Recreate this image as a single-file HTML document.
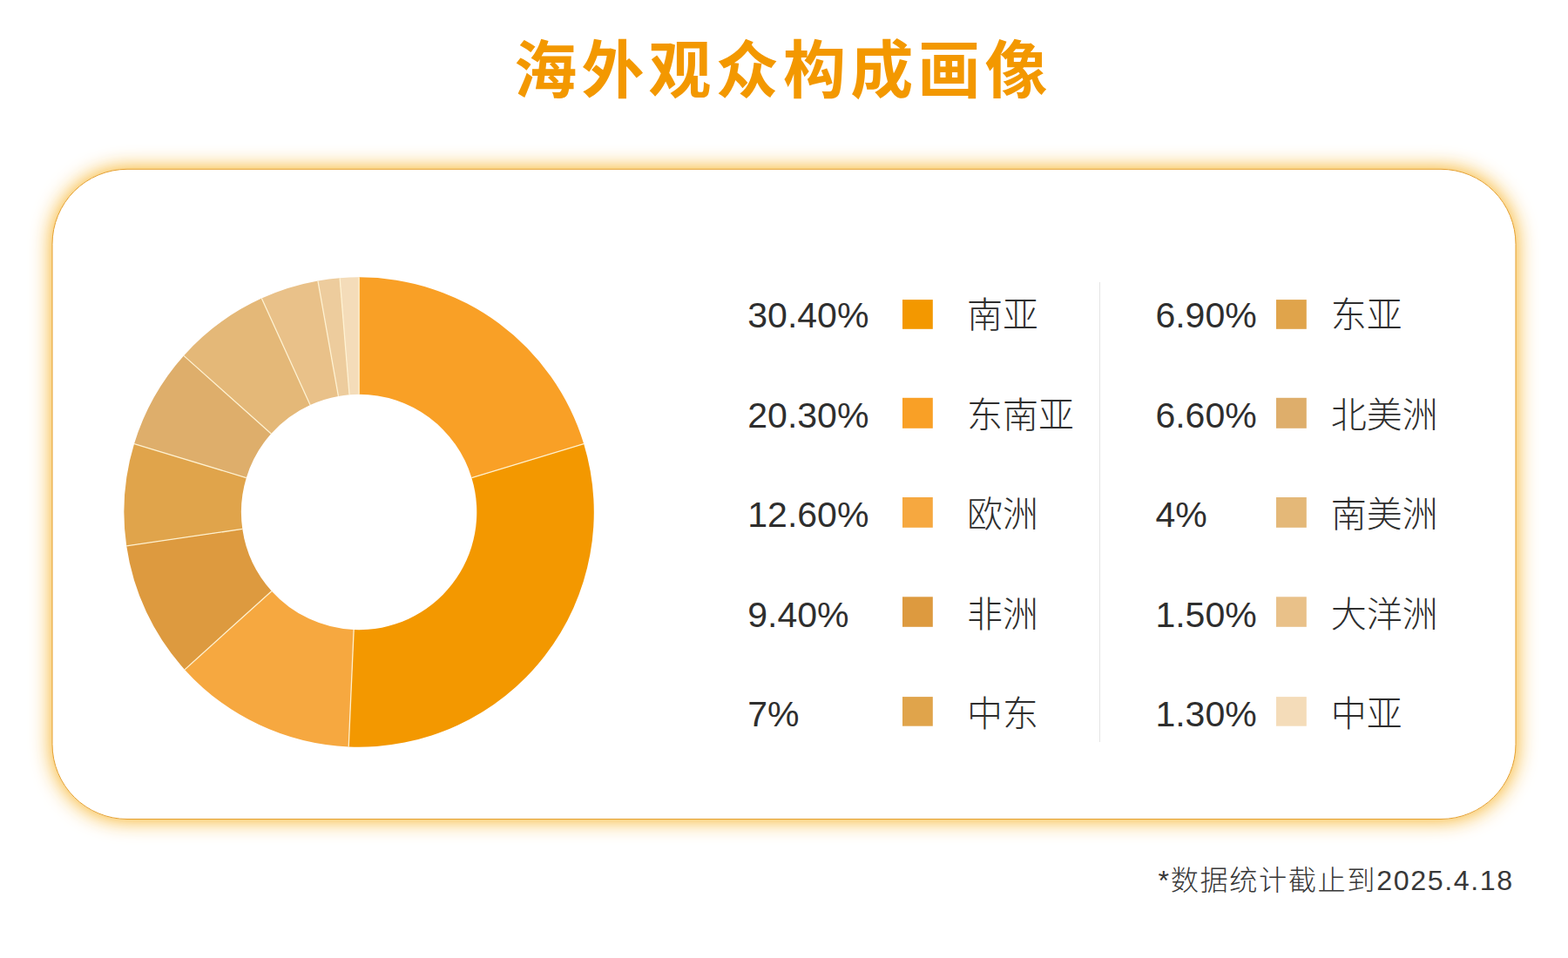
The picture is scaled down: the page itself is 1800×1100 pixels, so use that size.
<!DOCTYPE html>
<html lang="zh-CN">
<head>
<meta charset="utf-8">
<title>海外观众构成画像</title>
<style>
html,body{margin:0;padding:0;background:#fff}
body{width:1800px;height:1100px;position:relative;overflow:hidden;font-family:"Liberation Sans","Noto Sans CJK SC",sans-serif}
.card{position:absolute;left:60px;top:194px;width:1680px;height:747px;box-sizing:border-box;background:#fff;border-radius:86px;box-shadow:0 0 24px rgba(246,165,0,.95)}
svg.art{position:absolute;left:0;top:0;width:1800px;height:1100px;display:block}
.t{position:absolute;margin:0;padding:0;color:#2e2e2e;white-space:nowrap;font-weight:normal;list-style:none;pointer-events:none;user-select:none;font-family:"Liberation Sans","Noto Sans CJK SC",sans-serif}
.t li{margin:0;padding:0}
h1.t{color:#f39800;font-weight:bold}
ul.t{color:#2e2e2e;font-weight:300}
p.t{color:#383838;font-weight:300}
</style>
</head>
<body>
<div class="card"></div>
<svg class="art" viewBox="0 0 1800 1100" width="1800" height="1100" role="img" aria-label="海外观众构成画像">
<rect x="60" y="194.3" width="1680" height="746.2" rx="86" ry="86" fill="none" stroke="#e5a030" stroke-width="1"/>
<g class="donut">
<path d="M412.1 318.3A269.7 269.7 0 0 1 670.13 509.51L541.45 548.65A135.2 135.2 0 0 0 412.1 452.8Z" fill="#f9a026"/>
<path d="M670.13 509.51A269.7 269.7 0 0 1 400.24 857.44L406.16 723.07A135.2 135.2 0 0 0 541.45 548.65Z" fill="#f39800"/>
<path d="M400.24 857.44A269.7 269.7 0 0 1 212.05 768.88L311.82 678.68A135.2 135.2 0 0 0 406.16 723.07Z" fill="#f6a840"/>
<path d="M212.05 768.88A269.7 269.7 0 0 1 145.21 626.84L278.31 607.47A135.2 135.2 0 0 0 311.82 678.68Z" fill="#dd9a3f"/>
<path d="M145.21 626.84A269.7 269.7 0 0 1 154.07 509.51L282.75 548.65A135.2 135.2 0 0 0 278.31 607.47Z" fill="#e0a44b"/>
<path d="M154.07 509.51A269.7 269.7 0 0 1 210.92 408.38L311.25 497.96A135.2 135.2 0 0 0 282.75 548.65Z" fill="#deae6b"/>
<path d="M210.92 408.38A269.7 269.7 0 0 1 300.34 342.54L356.08 464.95A135.2 135.2 0 0 0 311.25 497.96Z" fill="#e4b878"/>
<path d="M300.34 342.54A269.7 269.7 0 0 1 364.9 322.46L388.44 454.89A135.2 135.2 0 0 0 356.08 464.95Z" fill="#e9c189"/>
<path d="M364.9 322.46A269.7 269.7 0 0 1 390.1 319.2L401.07 453.25A135.2 135.2 0 0 0 388.44 454.89Z" fill="#edcc9d"/>
<path d="M390.1 319.2A269.7 269.7 0 0 1 412.1 318.3L412.1 452.8A135.2 135.2 0 0 0 401.07 453.25Z" fill="#f4dcb9"/>
<path d="M412.1 452.8L412.1 318.3M541.45 548.65L670.13 509.51M406.16 723.07L400.24 857.44M311.82 678.68L212.05 768.88M278.31 607.47L145.21 626.84M282.75 548.65L154.07 509.51M311.25 497.96L210.92 408.38M356.08 464.95L300.34 342.54M388.44 454.89L364.9 322.46M401.07 453.25L390.1 319.2" fill="none" stroke="rgba(255,243,212,.95)" stroke-width="1.3"/>
</g>
<rect x="1036" y="344.1" width="34.8" height="33.7" fill="#f39800"/>
<rect x="1036" y="456.8" width="34.8" height="35" fill="#f9a026"/>
<rect x="1036" y="571" width="34.8" height="34.8" fill="#f6a840"/>
<rect x="1036" y="685.3" width="34.8" height="34.5" fill="#dd9a3f"/>
<rect x="1036" y="800.1" width="34.8" height="33.6" fill="#e0a44b"/>
<rect x="1465" y="344.1" width="34.8" height="33.7" fill="#e0a44b"/>
<rect x="1465" y="456.8" width="34.8" height="35" fill="#deae6b"/>
<rect x="1465" y="571" width="34.8" height="34.8" fill="#e4b878"/>
<rect x="1465" y="685.3" width="34.8" height="34.5" fill="#e9c189"/>
<rect x="1465" y="800.1" width="34.8" height="33.6" fill="#f4dcb9"/>
<rect x="1262" y="324" width="1" height="528" fill="#e4e4e4"/>
</svg>
<h1 class="t" style="left:590.2px;top:45.4px;font-size:72px;letter-spacing:5.2px;line-height:72px">海外观众构成画像</h1>
<ul class="t" style="left:858.3px;top:342px">
<li style="height:114.5px;font-size:41px;line-height:41px"><span style="display:inline-block;width:251.7px">30.40%</span><span>南亚</span></li>
<li style="height:114.5px;font-size:41px;line-height:41px"><span style="display:inline-block;width:251.7px">20.30%</span><span>东南亚</span></li>
<li style="height:114.5px;font-size:41px;line-height:41px"><span style="display:inline-block;width:251.7px">12.60%</span><span>欧洲</span></li>
<li style="height:114.5px;font-size:41px;line-height:41px"><span style="display:inline-block;width:251.7px">9.40%</span><span>非洲</span></li>
<li style="height:114.5px;font-size:41px;line-height:41px"><span style="display:inline-block;width:251.7px">7%</span><span>中东</span></li>
</ul>
<ul class="t" style="left:1326.4px;top:342px">
<li style="height:114.5px;font-size:41px;line-height:41px"><span style="display:inline-block;width:201.4px">6.90%</span><span>东亚</span></li>
<li style="height:114.5px;font-size:41px;line-height:41px"><span style="display:inline-block;width:201.4px">6.60%</span><span>北美洲</span></li>
<li style="height:114.5px;font-size:41px;line-height:41px"><span style="display:inline-block;width:201.4px">4%</span><span>南美洲</span></li>
<li style="height:114.5px;font-size:41px;line-height:41px"><span style="display:inline-block;width:201.4px">1.50%</span><span>大洋洲</span></li>
<li style="height:114.5px;font-size:41px;line-height:41px"><span style="display:inline-block;width:201.4px">1.30%</span><span>中亚</span></li>
</ul>
<p class="t" style="left:1329.5px;top:995.3px;font-size:32.2px;letter-spacing:1.6px;line-height:32.2px">*数据统计截止到2025.4.18</p>
</body>
</html>
